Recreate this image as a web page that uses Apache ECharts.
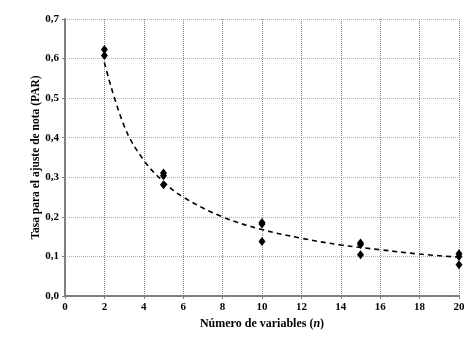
<!DOCTYPE html>
<html><head><meta charset="utf-8">
<script src="https://cdn.jsdelivr.net/npm/echarts@6/dist/echarts.min.js"></script>
<style>html,body{margin:0;padding:0;background:#fff}#c{width:474px;height:344px}</style>
</head><body><div id="c"></div>
<script>
// Observed points [n, PAR]
var obsN = [2, 2, 5, 5, 5, 10, 10, 10, 15, 15, 15, 20, 20, 20];
var obsPAR = [0.623, 0.608, 0.311, 0.304, 0.281, 0.186, 0.182, 0.138, 0.134, 0.130, 0.104, 0.107, 0.100, 0.079];
// Trend curve values
var trendN = [2, 3, 4, 5, 6, 8, 10, 12, 14, 16, 18, 20];
var trendPAR = [0.590, 0.430, 0.343, 0.289, 0.250, 0.200, 0.168, 0.146, 0.129, 0.117, 0.106, 0.098];
var xTicks = [0, 20, 2];
var yTicks = [0, 0.7, 0.1];

var font = 'Liberation Serif';
var chart = echarts.init(document.getElementById('c'));
chart.setOption({
  animation: false,
  grid: {left: 65, right: 15, top: 19, bottom: 48},
  xAxis: {
    type: 'value', min: xTicks[0], max: xTicks[1], interval: xTicks[2],
    name: '{b|Número de variables (}{i|n}{b|)}', nameLocation: 'middle', nameGap: 22,
    nameMoveOverlap: false,
    nameTextStyle: {rich: {
      b: {fontFamily: font, fontWeight: 'bold', fontSize: 12, color: '#000'},
      i: {fontFamily: font, fontWeight: 'bold', fontStyle: 'italic', fontSize: 12, color: '#000'}
    }},
    axisLine: {lineStyle: {color: '#7f7f7f', width: 2}},
    axisTick: {show: true, length: 3, lineStyle: {color: '#7f7f7f'}},
    axisLabel: {fontFamily: font, fontWeight: 'bold', fontSize: 11, color: '#000', margin: 6},
    splitLine: {show: true, lineStyle: {color: '#808080', type: [1, 1], width: 1}}
  },
  yAxis: {
    type: 'value', min: yTicks[0], max: yTicks[1], interval: yTicks[2],
    name: 'Tasa para el ajuste de nota (PAR)', nameLocation: 'middle', nameGap: 23,
    nameMoveOverlap: false,
    nameTextStyle: {fontFamily: font, fontWeight: 'bold', fontSize: 11.5, color: '#000'},
    axisLine: {show: true, lineStyle: {color: '#7f7f7f', width: 2}},
    axisTick: {show: true, length: 3, lineStyle: {color: '#7f7f7f'}},
    axisLabel: {fontFamily: font, fontWeight: 'bold', fontSize: 11, color: '#000', margin: 6,
      formatter: function (v) { return v.toFixed(1).replace('.', ','); }},
    splitLine: {show: true, lineStyle: {color: '#b0b0b0', type: [1, 1], width: 1}}
  },
  series: [
    {
      type: 'line', data: trendN.map(function (n, i) { return [n, trendPAR[i]]; }),
      smooth: 0.4, showSymbol: false, symbol: 'none',
      lineStyle: {color: '#000', width: 1.6, type: [5, 4]}, z: 2
    },
    {
      type: 'scatter', data: obsN.map(function (n, i) { return [n, obsPAR[i]]; }),
      symbol: 'diamond', symbolSize: [7, 9], itemStyle: {color: '#000', opacity: 1}, z: 3
    }
  ]
});
</script></body></html>
